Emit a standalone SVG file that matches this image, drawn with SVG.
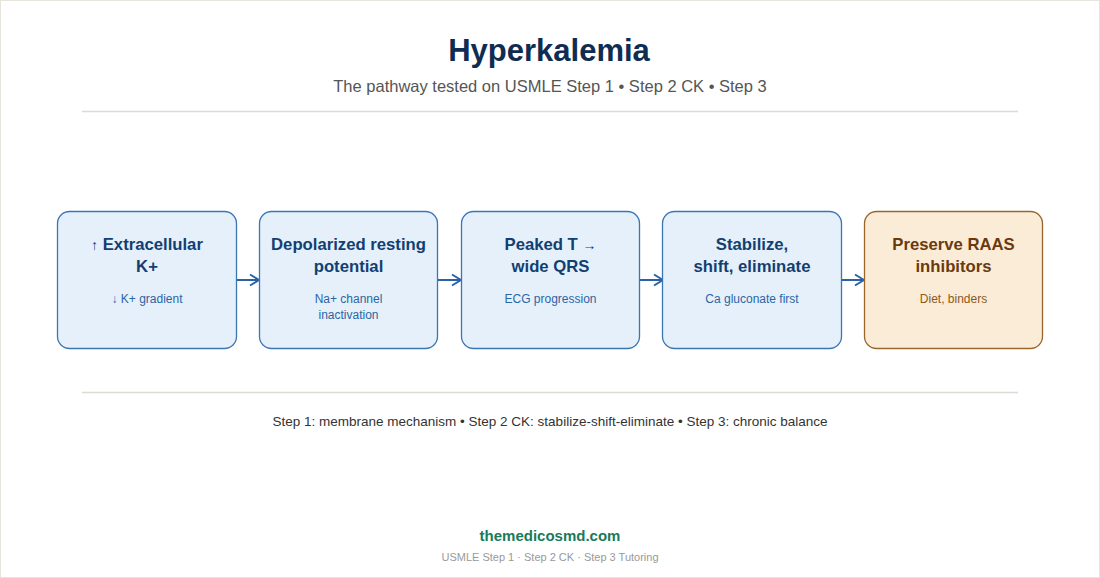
<svg xmlns="http://www.w3.org/2000/svg" width="1100" height="578" viewBox="0 0 1100 578">
<style>
.title{font-family:"Liberation Sans",Arial,sans-serif;font-weight:bold;font-size:31px;fill:#0f2d52;text-anchor:middle}
.sub{font-family:"Liberation Sans",Arial,sans-serif;font-size:16.5px;fill:#555;text-anchor:middle}
.box{fill:#e6f0fa;stroke:#3a76b4;stroke-width:1.3}
.boxw{fill:#fbecd8;stroke:#9a662c;stroke-width:1.3}
.nt{font-family:"Liberation Sans",Arial,sans-serif;font-weight:bold;font-size:16.7px;fill:#123f72;text-anchor:middle}
.ns{font-family:"Liberation Sans",Arial,sans-serif;font-size:12px;fill:#2a66a6;text-anchor:middle}
.ntw{font-family:"Liberation Sans",Arial,sans-serif;font-weight:bold;font-size:16.7px;fill:#6a3a0c;text-anchor:middle}
.nsw{font-family:"Liberation Sans",Arial,sans-serif;font-size:12px;fill:#8a5a1e;text-anchor:middle}
.rule{stroke:#dcdbd3;stroke-width:1.5}
.conn{stroke:#2a62a6;stroke-width:2;fill:none}
.foot{font-family:"Liberation Sans",Arial,sans-serif;font-size:13.5px;fill:#333;text-anchor:middle}
.brand{font-family:"Liberation Sans",Arial,sans-serif;font-weight:bold;font-size:15px;fill:#1a7a5a;text-anchor:middle}
.brs{font-family:"Liberation Sans",Arial,sans-serif;font-size:11px;fill:#999;text-anchor:middle}
</style>
<defs>
<marker id="arr" viewBox="0 0 12 14" refX="11" refY="7" markerWidth="12" markerHeight="14" markerUnits="userSpaceOnUse" orient="auto">
<path d="M2,1.5 L11,7 L2,12.5" fill="none" stroke="#2a62a6" stroke-width="2"/>
</marker>
</defs>
<rect x="0.5" y="0.5" width="1099" height="577" fill="#fff" stroke="#e6e4dc" stroke-width="1"/>
<g id="header">
<text class="title" x="549" y="61">Hyperkalemia</text>
<text class="sub" x="550" y="92">The pathway tested on USMLE Step 1 • Step 2 CK • Step 3</text>
<line class="rule" x1="82" y1="111.5" x2="1018" y2="111.5"/>
</g>
<g id="connectors">
<line class="conn" x1="237" y1="280" x2="259" y2="280" marker-end="url(#arr)"/>
<line class="conn" x1="438" y1="280" x2="461" y2="280" marker-end="url(#arr)"/>
<line class="conn" x1="640" y1="280" x2="663" y2="280" marker-end="url(#arr)"/>
<line class="conn" x1="842" y1="280" x2="864" y2="280" marker-end="url(#arr)"/>
</g>
<g id="n1">
<rect class="box" x="57.5" y="211.5" width="179" height="137" rx="12"/>
<text class="nt" x="147" y="250"><tspan font-size="14" font-weight="normal">↑</tspan> Extracellular</text>
<text class="nt" x="147" y="272">K+</text>
<text class="ns" x="147" y="303">↓ K+ gradient</text>
</g>
<g id="n2">
<rect class="box" x="259.5" y="211.5" width="178" height="137" rx="12"/>
<text class="nt" x="348.5" y="250">Depolarized resting</text>
<text class="nt" x="348.5" y="272">potential</text>
<text class="ns" x="348.5" y="303">Na+ channel</text>
<text class="ns" x="348.5" y="319">inactivation</text>
</g>
<g id="n3">
<rect class="box" x="461.5" y="211.5" width="178" height="137" rx="12"/>
<text class="nt" x="550.5" y="250">Peaked T <tspan font-size="14" font-weight="normal">→</tspan></text>
<text class="nt" x="550.5" y="272">wide QRS</text>
<text class="ns" x="550.5" y="303">ECG progression</text>
</g>
<g id="n4">
<rect class="box" x="662.5" y="211.5" width="179" height="137" rx="12"/>
<text class="nt" x="752" y="250">Stabilize,</text>
<text class="nt" x="752" y="272">shift, eliminate</text>
<text class="ns" x="752" y="303">Ca gluconate first</text>
</g>
<g id="n5">
<rect class="boxw" x="864.5" y="211.5" width="178" height="137" rx="12"/>
<text class="ntw" x="953.5" y="250">Preserve RAAS</text>
<text class="ntw" x="953.5" y="272">inhibitors</text>
<text class="nsw" x="953.5" y="303">Diet, binders</text>
</g>
<g id="footer">
<line class="rule" x1="82" y1="392.5" x2="1018" y2="392.5"/>
<text class="foot" x="550" y="426">Step 1: membrane mechanism • Step 2 CK: stabilize-shift-eliminate • Step 3: chronic balance</text>
<text class="brand" x="550" y="541">themedicosmd.com</text>
<text class="brs" x="550" y="561">USMLE Step 1 · Step 2 CK · Step 3 Tutoring</text>
</g>
</svg>
